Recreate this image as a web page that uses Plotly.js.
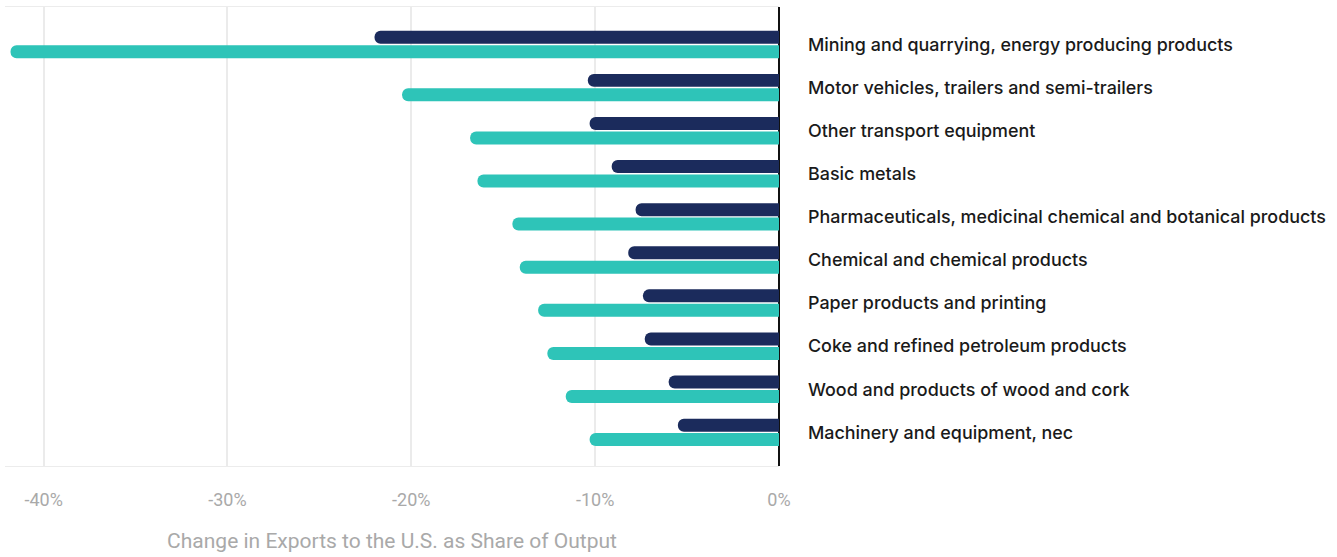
<!DOCTYPE html>
<html>
<head>
<meta charset="utf-8">
<script src="https://cdn.plot.ly/plotly-3.0.1.min.js"></script>
<style>
html,body{margin:0;padding:0;background:#fff;}
#chart{width:1337px;height:557px;}
</style>
</head>
<body>
<div id="chart"></div>
<script>
const categories = [
  "Mining and quarrying, energy producing products",
  "Motor vehicles, trailers and semi-trailers",
  "Other transport equipment",
  "Basic metals",
  "Pharmaceuticals, medicinal chemical and botanical products",
  "Chemical and chemical products",
  "Paper products and printing",
  "Coke and refined petroleum products",
  "Wood and products of wood and cork",
  "Machinery and equipment, nec"
];
const seriesNavy = [-22.0, -10.4, -10.3, -9.1, -7.8, -8.2, -7.4, -7.3, -6.0, -5.5];
const seriesTeal = [-41.8, -20.5, -16.8, -16.4, -14.5, -14.1, -13.1, -12.6, -11.6, -10.3];
const tickValues = [-40, -30, -20, -10, 0];
const tickLabels = ["-40%", "-30%", "-20%", "-10%", "0%"];
const xTitle = "Change in Exports to the U.S. as Share of Output";

const traces = [
  {type:'bar', orientation:'h', y:categories, x:seriesNavy, name:'A',
   marker:{color:'#1b2b5c', cornerradius:7}, hoverinfo:'x+y'},
  {type:'bar', orientation:'h', y:categories, x:seriesTeal, name:'B',
   marker:{color:'#2ec4b8', cornerradius:7}, hoverinfo:'x+y'}
];

const layout = {
  width:1337, height:557,
  margin:{l:5, r:558, t:7, b:91},
  paper_bgcolor:'#fff', plot_bgcolor:'#fff',
  showlegend:false,
  barmode:'group', bargap:0.33, bargroupgap:0.1,
  xaxis:{
    range:[-42.1, 0],
    tickvals:tickValues, ticktext:tickLabels,
    showgrid:true, gridcolor:'#ebebeb', gridwidth:2,
    zeroline:true, zerolinecolor:'#111', zerolinewidth:2,
    showline:true, linecolor:'#ececec', linewidth:1, mirror:true,
    ticks:'', ticklabelstandoff:17,
    tickfont:{family:'Roboto, sans-serif', size:18, color:'#a9a9a9'},
    title:{text:xTitle, standoff:24,
      font:{family:'Roboto, sans-serif', size:21, color:'#a9a9a9'}}
  },
  yaxis:{
    type:'category',
    range:[9.78, -0.87],
    side:'right',
    showgrid:false, zeroline:false,
    showline:false,
    ticks:'', ticklabelstandoff:28,
    tickfont:{family:'Inter, "Noto Sans", sans-serif', size:17.9, color:'#1a1a1a', weight:500}
  }
};

Plotly.newPlot('chart', traces, layout, {displayModeBar:false, staticPlot:true});
</script>
</body>
</html>
